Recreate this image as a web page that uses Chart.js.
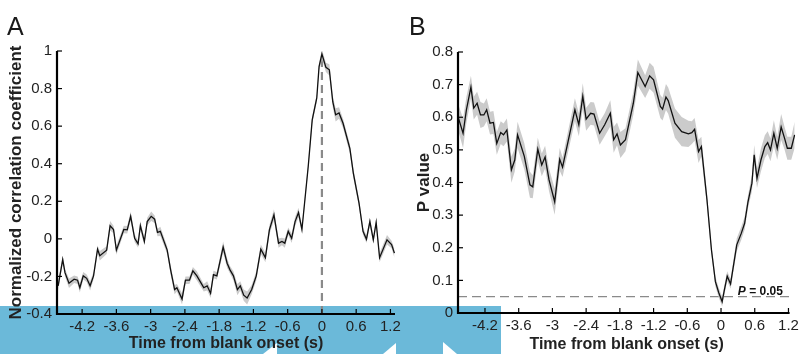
<!DOCTYPE html>
<html>
<head>
<meta charset="utf-8">
<script src="https://cdn.jsdelivr.net/npm/chart.js@4.4.1/dist/chart.umd.min.js"></script>
<style>
html, body { margin: 0; padding: 0; background: #fff; }
#wrap { position: relative; width: 803px; height: 354px; overflow: hidden; }
#overlay { position: absolute; left: 0; top: 306px; width: 501px; height: 48px; background: rgb(107,185,217); }
#overlay svg { position: absolute; left: 0; top: 0; }
canvas { position: absolute; top: 0; }
#chartA { left: 0; }
#chartB { left: 400px; }
</style>
</head>
<body>
<div id="wrap">
  <div id="overlay">
    <svg width="501" height="48">
      <polygon points="263,48 277,37 277,48" fill="#fff"/>
      <polygon points="383,48 396,37 396,48" fill="#fff"/>
      <polygon points="443,36 457,48 443,48" fill="#fff"/>
    </svg>
  </div>
  <canvas id="chartA" width="420" height="354"></canvas>
  <canvas id="chartB" width="403" height="354"></canvas>
</div>
<script>
// A: 归一化相关系数
const timeA = [-4.62,-4.54,-4.50,-4.43,-4.34,-4.28,-4.24,-4.18,-4.12,-4.06,-4.00,-3.93,-3.89,-3.77,-3.71,-3.65,-3.60,-3.47,-3.41,-3.35,-3.28,-3.22,-3.18,-3.11,-3.06,-2.99,-2.93,-2.88,-2.83,-2.71,-2.65,-2.58,-2.54,-2.45,-2.39,-2.32,-2.26,-2.19,-2.07,-2.01,-1.95,-1.90,-1.84,-1.73,-1.66,-1.61,-1.55,-1.48,-1.43,-1.37,-1.31,-1.23,-1.15,-1.07,-0.99,-0.92,-0.84,-0.76,-0.70,-0.65,-0.59,-0.53,-0.47,-0.41,-0.35,-0.24,-0.17,-0.09,-0.05,0.00,0.07,0.13,0.19,0.24,0.30,0.37,0.49,0.55,0.65,0.72,0.78,0.84,0.90,0.95,1.01,1.14,1.22,1.27];
const corrA = [-0.25,-0.11,-0.18,-0.236,-0.215,-0.22,-0.26,-0.197,-0.21,-0.25,-0.197,-0.055,-0.09,-0.06,0.07,0.05,-0.06,0.05,0.048,0.12,0.003,-0.027,0.07,-0.014,0.092,0.12,0.105,0.034,0.04,-0.06,-0.165,-0.27,-0.26,-0.32,-0.22,-0.22,-0.17,-0.197,-0.26,-0.25,-0.29,-0.19,-0.197,-0.044,-0.13,-0.165,-0.197,-0.27,-0.25,-0.30,-0.315,-0.27,-0.197,-0.055,-0.10,0.048,0.128,-0.023,-0.014,-0.023,0.04,0.003,0.092,0.14,0.05,0.385,0.633,0.75,0.917,0.984,0.913,0.90,0.73,0.66,0.67,0.615,0.48,0.35,0.19,0.04,-0.002,0.092,-0.005,0.087,-0.10,-0.005,-0.03,-0.076];
const semA = [0.025,0.02,0.02,0.025,0.02,0.02,0.025,0.02,0.02,0.025,0.02,0.02,0.025,0.02,0.025,0.02,0.025,0.02,0.02,0.025,0.02,0.02,0.025,0.02,0.02,0.025,0.02,0.02,0.025,0.02,0.025,0.025,0.02,0.03,0.02,0.02,0.02,0.025,0.02,0.025,0.025,0.02,0.02,0.03,0.025,0.02,0.025,0.03,0.025,0.03,0.035,0.025,0.025,0.025,0.025,0.025,0.03,0.025,0.02,0.025,0.02,0.025,0.025,0.025,0.02,0.02,0.02,0.02,0.02,0.025,0.025,0.03,0.03,0.035,0.03,0.025,0.025,0.025,0.02,0.02,0.02,0.02,0.02,0.02,0.025,0.025,0.02,0.025];

// B: P 值
const timeB = [-4.68,-4.59,-4.53,-4.45,-4.40,-4.34,-4.28,-4.22,-4.17,-4.11,-4.05,-3.99,-3.92,-3.87,-3.81,-3.73,-3.67,-3.62,-3.50,-3.40,-3.35,-3.26,-3.19,-3.13,-3.06,-2.96,-2.87,-2.82,-2.60,-2.53,-2.46,-2.40,-2.32,-2.26,-2.16,-2.07,-1.97,-1.91,-1.85,-1.79,-1.70,-1.56,-1.48,-1.35,-1.27,-1.20,-1.08,-1.04,-0.98,-0.94,-0.82,-0.70,-0.58,-0.52,-0.47,-0.40,-0.35,-0.25,-0.17,-0.10,-0.04,0.02,0.06,0.11,0.17,0.28,0.36,0.42,0.48,0.55,0.59,0.64,0.71,0.78,0.83,0.88,0.94,1.00,1.07,1.13,1.18,1.25,1.31];
const pvalB = [0.602,0.551,0.623,0.692,0.628,0.643,0.607,0.607,0.623,0.582,0.584,0.52,0.553,0.546,0.561,0.439,0.469,0.546,0.48,0.393,0.387,0.502,0.454,0.478,0.408,0.341,0.471,0.447,0.623,0.577,0.664,0.594,0.612,0.61,0.551,0.577,0.612,0.531,0.549,0.515,0.531,0.643,0.737,0.694,0.727,0.715,0.633,0.625,0.662,0.651,0.582,0.556,0.549,0.553,0.563,0.495,0.51,0.347,0.193,0.096,0.062,0.035,0.071,0.113,0.089,0.209,0.244,0.275,0.341,0.398,0.485,0.413,0.469,0.51,0.522,0.50,0.551,0.505,0.57,0.536,0.505,0.505,0.546];
const semB = [0.04,0.045,0.04,0.035,0.035,0.035,0.04,0.035,0.035,0.035,0.035,0.035,0.035,0.035,0.035,0.04,0.035,0.04,0.04,0.04,0.035,0.035,0.035,0.035,0.035,0.04,0.035,0.03,0.035,0.035,0.04,0.035,0.035,0.035,0.035,0.035,0.04,0.04,0.035,0.04,0.035,0.035,0.04,0.035,0.04,0.04,0.035,0.035,0.04,0.04,0.045,0.045,0.04,0.035,0.035,0.035,0.03,0.02,0.015,0.015,0.015,0.015,0.015,0.015,0.015,0.02,0.02,0.02,0.02,0.025,0.03,0.03,0.035,0.035,0.035,0.035,0.04,0.035,0.04,0.035,0.035,0.035,0.04];

const xTicks = [-4.2, -3.6, -3, -2.4, -1.8, -1.2, -0.6, 0, 0.6, 1.2];
const yTicksA = [-0.4, -0.2, 0, 0.2, 0.4, 0.6, 0.8, 1];
const yTicksB = [0, 0.1, 0.2, 0.3, 0.4, 0.5, 0.6, 0.7, 0.8];
const pThreshold = 0.05;

Chart.defaults.font.family = '"Liberation Sans", Arial, sans-serif';
Chart.defaults.color = '#222';

// MATLAB 风格坐标轴：刻度朝内
const matAxes = {
    id: 'matAxes',
    afterDatasetsDraw(chart, args, opts) {
        const { ctx, chartArea: a, scales: { x, y } } = chart;
        ctx.save();
        ctx.strokeStyle = '#000';
        ctx.lineWidth = 1.2;
        x.ticks.forEach(t => {
            const px = x.getPixelForValue(t.value);
            ctx.beginPath(); ctx.moveTo(px, a.bottom); ctx.lineTo(px, a.bottom - 5); ctx.stroke();
        });
        y.ticks.forEach(t => {
            const py = y.getPixelForValue(t.value);
            ctx.beginPath(); ctx.moveTo(a.left, py); ctx.lineTo(a.left + 5, py); ctx.stroke();
        });
        ctx.lineWidth = 2.2;
        const xEnd = opts.xEnd != null ? x.getPixelForValue(opts.xEnd) : a.right;
        ctx.beginPath();
        ctx.moveTo(a.left, a.top);
        ctx.lineTo(a.left, a.bottom);
        ctx.lineTo(xEnd, a.bottom);
        ctx.stroke();
        if (opts.letter) {
            ctx.fillStyle = '#1a1a1a';
            ctx.font = '25px "Liberation Sans", Arial, sans-serif';
            ctx.fillText(opts.letter.text, opts.letter.x, opts.letter.y);
        }
        ctx.restore();
    }
};

// 参考虚线
const refLine = {
    id: 'refLine',
    beforeDatasetsDraw(chart, args, opts) {
        const { ctx, scales: { x, y } } = chart;
        ctx.save();
        ctx.strokeStyle = opts.color;
        ctx.lineWidth = opts.width;
        ctx.setLineDash(opts.dash);
        ctx.beginPath();
        if (opts.vertical) {
            const px = x.getPixelForValue(opts.at);
            ctx.moveTo(px, y.getPixelForValue(opts.from));
            ctx.lineTo(px, y.getPixelForValue(opts.to));
        } else {
            const py = y.getPixelForValue(opts.at);
            ctx.moveTo(x.getPixelForValue(opts.from), py);
            ctx.lineTo(x.getPixelForValue(opts.to), py);
        }
        ctx.stroke();
        ctx.setLineDash([]);
        if (opts.label) {
            const px = x.getPixelForValue(opts.label.x);
            const py = y.getPixelForValue(opts.at) - 2;
            ctx.fillStyle = '#111';
            ctx.textBaseline = 'alphabetic';
            ctx.textAlign = 'left';
            ctx.font = 'bold 12px "Liberation Sans", Arial, sans-serif';
            const rest = ' = ' + opts.at;
            const wRest = ctx.measureText(rest).width;
            ctx.font = 'italic bold 12px "Liberation Sans", Arial, sans-serif';
            const wP = ctx.measureText('P').width;
            const start = px - wRest - wP;
            ctx.fillText('P', start, py);
            ctx.font = 'bold 12px "Liberation Sans", Arial, sans-serif';
            ctx.fillText(rest, start + wP, py);
        }
        ctx.restore();
    }
};

function toPoints(xs, ys, sem, sign) {
    return xs.map((x, i) => ({ x: x, y: ys[i] + sign * (sem ? sem[i] : 0) }));
}

function makeConfig(p) {
    return {
        type: 'line',
        data: {
            // 均值线放在第一个，最后绘制，位于阴影之上
            datasets: [
                { data: toPoints(p.xs, p.ys, null, 0), borderColor: '#111', borderWidth: 1.3, pointRadius: 0, fill: false },
                { data: toPoints(p.xs, p.ys, p.sem, 1), borderWidth: 0, pointRadius: 0, fill: false },
                { data: toPoints(p.xs, p.ys, p.sem, -1), borderWidth: 0, pointRadius: 0, fill: '-1', backgroundColor: '#cbcbcb' }
            ]
        },
        options: {
            responsive: false,
            animation: false,
            events: [],
            layout: { padding: p.padding },
            elements: { line: { tension: 0 } },
            plugins: {
                legend: { display: false },
                tooltip: { enabled: false },
                matAxes: { xEnd: p.xEnd, letter: p.letter },
                refLine: p.ref
            },
            scales: {
                x: {
                    type: 'linear', min: p.xMin, max: p.xMax,
                    afterBuildTicks: s => { s.ticks = xTicks.map(v => ({ value: v })); },
                    afterFit: s => { s.height = p.xHeight; },
                    grid: { display: false, drawTicks: false },
                    border: { display: false },
                    ticks: { padding: 4, autoSkip: false, maxRotation: 0, font: { size: 15 }, callback: v => String(v) },
                    title: { display: true, text: 'Time from blank onset (s)', font: { size: 16, weight: 'bold' }, padding: { top: 0, bottom: p.xTitlePad } }
                },
                y: {
                    type: 'linear', min: p.yMin, max: p.yMax,
                    afterBuildTicks: s => { s.ticks = p.yTicks.map(v => ({ value: v })); },
                    afterFit: s => { s.width = p.yWidth; },
                    grid: { display: false, drawTicks: false },
                    border: { display: false },
                    ticks: { padding: 5, font: { size: 15 }, callback: v => String(v) },
                    title: { display: true, text: p.yTitle, font: { size: 17, weight: 'bold' }, padding: { top: p.yTitlePad, bottom: 0 } }
                }
            }
        },
        plugins: [refLine, matAxes]
    };
}

let _charts = [
    {
        id: 'chartA',
        config: makeConfig({
            xs: timeA, ys: corrA, sem: semA,
            xMin: -4.64, xMax: 1.28, yMin: -0.4, yMax: 1, yTicks: yTicksA,
            padding: { top: 51, right: 25, bottom: 0, left: 0 },
            yWidth: 57, xHeight: 40, xTitlePad: 1, yTitlePad: 6,
            yTitle: 'Normalized correlation coefficient',
            letter: { text: 'A', x: 7, y: 35 },
            ref: { vertical: true, at: 0, from: -0.4, to: 0.98, color: '#8a8a8a', width: 2.2, dash: [8, 5] }
        })
    },
    {
        id: 'chartB',
        config: makeConfig({
            xs: timeB, ys: pvalB, sem: semB,
            xMin: -4.68, xMax: 1.32, yMin: 0, yMax: 0.8, yTicks: yTicksB,
            padding: { top: 52, right: 5.4, bottom: 0, left: 0 },
            yWidth: 58, xHeight: 41, xTitlePad: 0, yTitlePad: 14, xEnd: 1.22,
            yTitle: 'P value',
            letter: { text: 'B', x: 9, y: 35 },
            ref: { vertical: false, at: pThreshold, from: -4.68, to: 1.22, color: '#8a8a8a', width: 1.3, dash: [9, 5], label: { x: 1.10 } }
        })
    }
];
_charts.forEach(item => {
    item.target = new Chart(document.getElementById(item.id), item.config);
});
</script>
</body>
</html>
